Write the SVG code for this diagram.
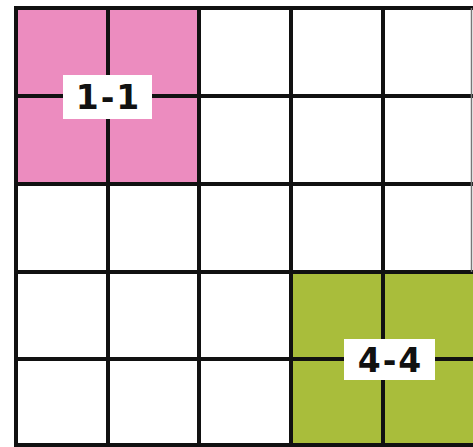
<svg xmlns="http://www.w3.org/2000/svg" width="473" height="447" viewBox="0 0 473 447">
<style>
.g{stroke:#111;stroke-width:4;fill:none}
.lb{fill:#fff}
.t{font-family:"DejaVu Sans","Liberation Sans",sans-serif;font-weight:bold;font-size:33px;letter-spacing:2px;fill:#111;text-anchor:middle}
</style>
<rect width="473" height="447" fill="#fff"/>
<g id="cell-1-1"><rect x="16" y="8" width="183" height="176" fill="#ec8cbf"/></g>
<g id="cell-4-4"><rect x="291" y="272" width="182" height="175" fill="#a9bd3b"/></g>
<g id="grid">
<path class="g" d="M16 6V447M108 8V447M199 8V447M291 8V447M383 8V447"/>
<path class="g" d="M14 8H473M14 96H473M14 184H473M14 272H473M14 359H473M14 445H473"/>
<path d="M471.5 8V272" stroke="#777" stroke-width="1.5"/>
</g>
<g id="label-1-1"><rect class="lb" x="63" y="75" width="89" height="44"/><text class="t" x="108.5" y="109">1-1</text></g>
<g id="label-4-4"><rect class="lb" x="344" y="339" width="91" height="41"/><text class="t" x="390.5" y="372">4-4</text></g>
</svg>
